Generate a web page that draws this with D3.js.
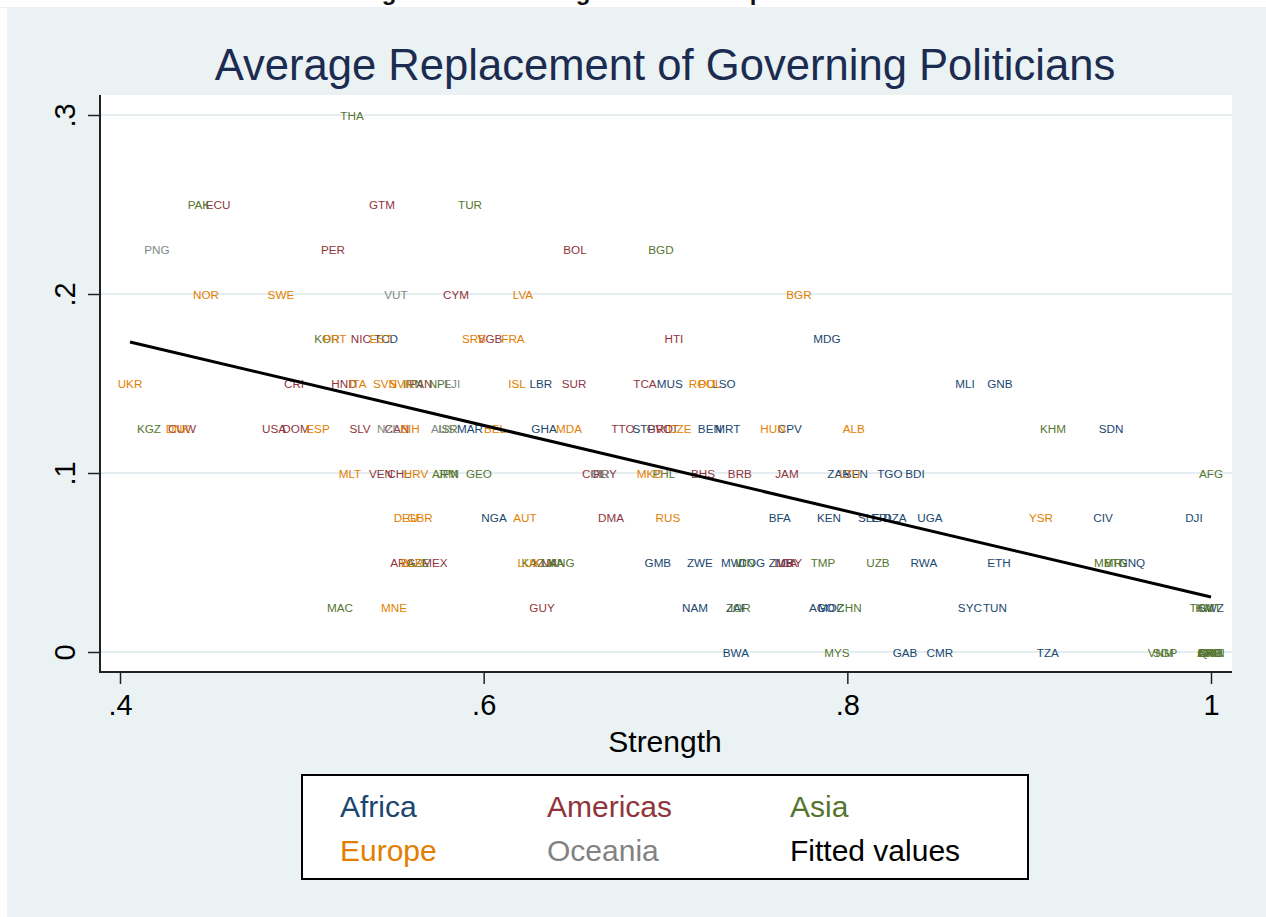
<!DOCTYPE html>
<html>
<head>
<meta charset="utf-8">
<script src="https://cdn.jsdelivr.net/npm/d3@7"></script>
<style>
  html, body { margin: 0; padding: 0; background: #ffffff; }
  svg { display: block; }
  text { font-family: "Liberation Sans", Arial, Helvetica, sans-serif; }
</style>
</head>
<body>
<svg id="chart" width="1266" height="917"></svg>
<script>
// ---------------- DATA ----------------
const titleText = "Average Replacement of Governing Politicians";
const xTitle = "Strength";
const xTicks = [0.4, 0.6, 0.8, 1.0];
const xTickLabels = [".4", ".6", ".8", "1"];
const yTicks = [0, 0.1, 0.2, 0.3];
const yTickLabels = ["0", ".1", ".2", ".3"];
const regions = ["Africa", "Americas", "Asia", "Europe", "Oceania"];
const legendLabels = ["Africa", "Americas", "Asia", "Europe", "Oceania", "Fitted values"];

// [country code, strength, average replacement]
const africa = [
  ["MDG",0.7888,0.175],["TCD",0.5463,0.175],
  ["LBR",0.6315,0.15],["MUS",0.7024,0.15],["LSO",0.7321,0.15],["MLI",0.8647,0.15],["GNB",0.8839,0.15],
  ["MAR",0.5925,0.125],["GHA",0.6332,0.125],["STP",0.6881,0.125],["BEN",0.7244,0.125],["MRT",0.7343,0.125],
  ["CPV",0.7684,0.125],["SDN",0.945,0.125],
  ["ZAR",0.7954,0.1],["SEN",0.8047,0.1],["TGO",0.8234,0.1],["BDI",0.8372,0.1],
  ["NGA",0.6057,0.075],["BFA",0.7629,0.075],["KEN",0.7899,0.075],["SLE",0.8119,0.075],["ERI",0.8185,0.075],
  ["DZA",0.8262,0.075],["UGA",0.8454,0.075],["CIV",0.9406,0.075],["DJI",0.9906,0.075],
  ["GMB",0.6958,0.05],["ZWE",0.7189,0.05],["MWI",0.7371,0.05],["COG",0.7475,0.05],["ZMB",0.7635,0.05],
  ["RWA",0.8421,0.05],["ETH",0.8834,0.05],["GNQ",0.9565,0.05],
  ["NAM",0.7162,0.025],["ZAF",0.7393,0.025],["AGO",0.786,0.025],["MOZ",0.791,0.025],["SYC",0.8674,0.025],
  ["TUN",0.8812,0.025],["SWZ",1.0,0.025],
  ["BWA",0.7387,0],["GAB",0.8317,0],["CMR",0.8509,0],["TZA",0.9103,0]
];
const americas = [
  ["ECU",0.4539,0.25],["GTM",0.5441,0.25],
  ["PER",0.5171,0.225],["BOL",0.6502,0.225],
  ["CYM",0.5848,0.2],
  ["NIC",0.5325,0.175],["VGB",0.6035,0.175],["HTI",0.7046,0.175],
  ["CRI",0.4957,0.15],["HND",0.5232,0.15],["PAN",0.5655,0.15],["SUR",0.6497,0.15],["TCA",0.6887,0.15],
  ["CUW",0.4341,0.125],["USA",0.4847,0.125],["DOM",0.4968,0.125],["SLV",0.532,0.125],["CAN",0.5523,0.125],
  ["TTO",0.6766,0.125],["GRD",0.6969,0.125],["VCT",0.7008,0.125],
  ["VEN",0.5435,0.1],["CHL",0.5534,0.1],["COL",0.6607,0.1],["PRY",0.6667,0.1],["BHS",0.7206,0.1],
  ["BRB",0.7409,0.1],["JAM",0.7668,0.1],
  ["DMA",0.67,0.075],
  ["ARG",0.5556,0.05],["MEX",0.5732,0.05],["KNA",0.6337,0.05],["LCA",0.7662,0.05],["URY",0.7684,0.05],
  ["GUY",0.6321,0.025]
];
const asia = [
  ["THA",0.5276,0.3],
  ["PAK",0.4434,0.25],["TUR",0.5925,0.25],
  ["BGD",0.6975,0.225],
  ["KOR",0.5138,0.175],
  ["IRN",0.5611,0.15],["NPL",0.576,0.15],
  ["KGZ",0.4159,0.125],["ISR",0.5804,0.125],["KHM",0.9131,0.125],
  ["ARM",0.5787,0.1],["JPN",0.5804,0.1],["GEO",0.5974,0.1],["PHL",0.6991,0.1],["AFG",1.0,0.1],
  ["AZE",0.5639,0.05],["KAZ",0.6271,0.05],["LKA",0.6381,0.05],["MNG",0.6425,0.05],["IDN",0.7437,0.05],
  ["TMP",0.7866,0.05],["UZB",0.8168,0.05],["MMR",0.9433,0.05],["BTN",0.9477,0.05],
  ["MAC",0.521,0.025],["JOR",0.7404,0.025],["CHN",0.8009,0.025],["TKM",0.995,0.025],["KWT",0.9985,0.025],
  ["MYS",0.7943,0],["VNM",0.9724,0],["SGP",0.9747,0],["SAU",1.0,0],["QAT",1.0,0],["ARE",0.999,0],["OMN",1.0,0],["BHR",0.9995,0]
];
const europe = [
  ["NOR",0.4473,0.2],["SWE",0.4885,0.2],["LVA",0.6216,0.2],["BGR",0.7734,0.2],
  ["PRT",0.5182,0.175],["EST",0.5435,0.175],["SRB",0.5947,0.175],["FRA",0.6161,0.175],
  ["UKR",0.4055,0.15],["ITA",0.5309,0.15],["SVN",0.5457,0.15],["SVK",0.5545,0.15],["ISL",0.6183,0.15],
  ["ROU",0.72,0.15],["POL",0.7244,0.15],
  ["DNK",0.4319,0.125],["ESP",0.5089,0.125],["BIH",0.5595,0.125],["BEL",0.6062,0.125],["MDA",0.6469,0.125],
  ["CZE",0.7079,0.125],["HUN",0.7591,0.125],["ALB",0.8036,0.125],
  ["MLT",0.5265,0.1],["HRV",0.5628,0.1],["MKD",0.6914,0.1],["LTU",0.8014,0.1],
  ["DEU",0.5573,0.075],["GBR",0.565,0.075],["AUT",0.6227,0.075],["RUS",0.7013,0.075],["YSR",0.9065,0.075],
  ["BLR",0.5606,0.05],["LUX",0.6249,0.05],
  ["MNE",0.5507,0.025]
];
const oceania = [
  ["PNG",0.4203,0.225],
  ["VUT",0.5518,0.2],
  ["FJI",0.5826,0.15],
  ["NZL",0.5474,0.125],["AUS",0.5776,0.125],
  ["KIR",0.664,0.1]
];
// fitted values (linear fit) at the ends of the strength range
const fitX = [0.4055, 1.0];
const fitY = [0.1732, 0.0307];

// ---------------- STYLE ----------------
const colors = {Africa:"#1a476f", Americas:"#90353b", Asia:"#55752f", Europe:"#e37e00", Oceania:"#7e8a86"};
const W = 1266, H = 917;
const plot = {left:100, right:1232, top:95, bottom:672};

const svg = d3.select("#chart");

// outer background
svg.append("rect").attr("x",0).attr("y",0).attr("width",W).attr("height",H).attr("fill","#ffffff");
svg.append("rect").attr("x",7).attr("y",7).attr("width",W-7).attr("height",H-7).attr("fill","#eaf2f3");

// cut-off caption fragments at the very top (descenders of the document caption)
const cap = svg.append("g").attr("font-family","'Liberation Serif', 'DejaVu Serif', serif")
  .attr("font-weight","bold").attr("font-size",24).attr("fill","#111");
[["g",389],["g",583],["p",757]].forEach(([t,xx]) => {
  cap.append("text").attr("x",xx).attr("y",0).attr("text-anchor","middle").text(t);
});
svg.append("rect").attr("x",0).attr("y",7).attr("width",W).attr("height",1).attr("fill","#eaf2f3");

// plot region
svg.append("rect").attr("x",plot.left).attr("y",plot.top)
  .attr("width",plot.right-plot.left).attr("height",plot.bottom-plot.top).attr("fill","#ffffff");

const x = d3.scaleLinear().domain([0.4, 1.0]).range([120, 1211]);
const y = d3.scaleLinear().domain([0, 0.3]).range([652, 115]);

// gridlines
svg.append("g").selectAll("line").data(yTicks).join("line")
  .attr("x1",plot.left).attr("x2",plot.right)
  .attr("y1",d=>y(d)).attr("y2",d=>y(d))
  .attr("stroke","#e4eef1").attr("stroke-width",2);

// title
svg.append("text").attr("x",665).attr("y",80).attr("text-anchor","middle")
  .attr("font-size",43.6).attr("fill","#1c2b50").text(titleText);

// axes
const yAxis = d3.axisLeft(y).tickValues(yTicks).tickSize(12).tickSizeOuter(0)
  .tickFormat((d,i)=>yTickLabels[i]);
const gy = svg.append("g").attr("transform",`translate(${plot.left},0)`).call(yAxis);
gy.select(".domain").remove();
gy.selectAll(".tick line").attr("stroke","#222").attr("stroke-width",1.5);
gy.selectAll(".tick text")
  .attr("transform","rotate(-90)").attr("x",0).attr("y",-25).attr("dy",0)
  .attr("text-anchor","middle").attr("font-size",29).attr("fill","#000")
  .attr("font-family","'Liberation Sans', Arial, sans-serif");

const xAxis = d3.axisBottom(x).tickValues(xTicks).tickSize(12).tickSizeOuter(0)
  .tickFormat((d,i)=>xTickLabels[i]);
const gx = svg.append("g").attr("transform",`translate(0,${plot.bottom})`).call(xAxis);
gx.select(".domain").remove();
gx.selectAll(".tick line").attr("stroke","#222").attr("stroke-width",1.5);
gx.selectAll(".tick text").attr("y",43).attr("dy",0)
  .attr("font-size",29).attr("fill","#000")
  .attr("font-family","'Liberation Sans', Arial, sans-serif");

svg.append("line").attr("x1",plot.left).attr("x2",plot.left).attr("y1",plot.top).attr("y2",plot.bottom+1)
  .attr("stroke","#222").attr("stroke-width",2);
svg.append("line").attr("x1",plot.left-1).attr("x2",plot.right).attr("y1",plot.bottom).attr("y2",plot.bottom)
  .attr("stroke","#222").attr("stroke-width",2);

svg.append("text").attr("x",665).attr("y",752).attr("text-anchor","middle")
  .attr("font-size",30).attr("fill","#000").text(xTitle);

// country labels
const groups = [["Africa",africa],["Americas",americas],["Asia",asia],["Europe",europe],["Oceania",oceania]];
groups.forEach(([reg, arr]) => {
  svg.append("g").selectAll("text").data(arr).join("text")
    .attr("x",d=>x(d[1])).attr("y",d=>y(d[2]))
    .attr("text-anchor","middle").attr("dominant-baseline","central")
    .attr("font-size",11.7).attr("fill",colors[reg]).text(d=>d[0]);
});

// fitted line
const fitData = fitX.map((v,i)=>[v, fitY[i]]);
svg.append("path").datum(fitData)
  .attr("d", d3.line().x(d=>x(d[0])).y(d=>y(d[1])))
  .attr("fill","none").attr("stroke","#000").attr("stroke-width",3);

// legend
const lg = svg.append("g");
lg.append("rect").attr("x",302).attr("y",775).attr("width",726).attr("height",104)
  .attr("fill","#ffffff").attr("stroke","#000").attr("stroke-width",2);
const colX = [340, 547, 790];
const rowY = [817, 861];
const legendColors = [colors.Africa, colors.Americas, colors.Asia, colors.Europe, "#828282", "#000000"];
legendLabels.forEach((lab,i) => {
  lg.append("text").attr("x",colX[i%3]).attr("y",rowY[Math.floor(i/3)])
    .attr("font-size",30).attr("fill",legendColors[i]).text(lab);
});
</script>
</body>
</html>
